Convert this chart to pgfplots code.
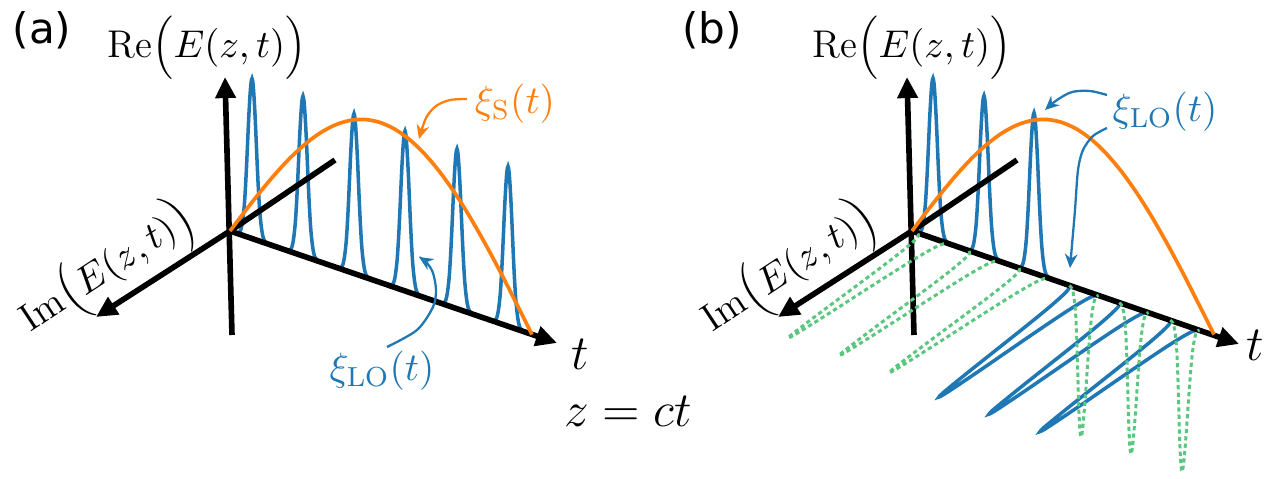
\RequirePackage{fix-cm}
\documentclass[border=0pt]{standalone}
\usepackage{fontspec}
\usepackage{pgfplots}
\pgfplotsset{compat=1.18}
\usepackage{pgfplotstable}
\usetikzlibrary{arrows.meta}
\newfontfamily\dejavu{DejaVu Sans}
\definecolor{mblue}{HTML}{1F77B4}
\definecolor{morange}{HTML}{FF7F0E}
\definecolor{mgreen}{RGB}{90,198,128}

% Gaussian pulse profile (offset along t in px, relative amplitude)
\pgfplotstableread{
dx g
-14.6 0.003
-12.3 0.015
-11.2 0.031
-10.1 0.061
-9.0 0.109
-7.8 0.183
-6.7 0.288
-5.6 0.421
-4.5 0.575
-3.4 0.732
-2.2 0.871
-1.1 0.966
0 1.000
1.1 0.966
2.2 0.871
3.4 0.732
4.5 0.575
5.6 0.421
6.7 0.288
7.8 0.183
9.0 0.109
10.1 0.061
11.2 0.031
12.3 0.015
14.6 0.003
}\pulseshape

% signal envelope: position along t (px) and height above the t axis (px)
\pgfplotstableread{
t h
0 0
15 24.9
30 49.1
45 72.2
60 93.5
75 112.5
90 128.8
105 142.0
120 151.7
135 157.8
150 160.0
165 158.3
180 152.8
195 143.5
210 130.8
225 114.9
240 96.2
255 75.1
270 52.3
285 28.1
300 3.3
302 0
}\signal

% #1 style, #2 origin x, #3 pulse centre along t, #4/#5 pulse direction (px)
\newcommand{\pulse}[5]{%
\addplot[#1] table[x expr={#2+#3+\thisrow{dx}+(#4)*\thisrow{g}},
  y expr={231+0.343*(#3+\thisrow{dx})+(#5)*\thisrow{g}}] {\pulseshape};}

\tikzset{
  bluep/.style={mblue, line width=1.0pt, smooth},
  greenp/.style={mgreen, line width=0.85pt, smooth, dash pattern=on 1.2pt off 0.9pt},
  ax/.style={black, line width=1.6pt},
  axa/.style={black, line width=1.6pt, -{Triangle[length=6pt,width=5.6pt]}},
}
\newcommand{\lab}[1]{\fontsize{11}{13}\selectfont $\mathrm{#1}\Big(E(z,t)\Big)$}

\begin{document}
\begin{tikzpicture}
\begin{axis}[width=127.2mm, height=47.9mm, scale only axis,
  xmin=0, xmax=1272, ymin=0, ymax=479, y dir=reverse,
  hide axis, clip=false]
\addplot[draw=none] coordinates {(0,0) (1272,479)};
\coordinate (BL) at (axis cs:0,479);
\coordinate (TR) at (axis cs:1272,0);

% ---------- panel (a) ----------
\pulse{bluep}{230}{22}{0}{-160}
\pulse{bluep}{230}{73}{0}{-160}
\pulse{bluep}{230}{124}{0}{-160}
\pulse{bluep}{230}{175}{0}{-160}
\pulse{bluep}{230}{227}{0}{-160}
\pulse{bluep}{230}{278}{0}{-160}

\addplot[axa] coordinates {(232,335) (225,77)};
\addplot[ax] coordinates {(230,231) (335,160)};
\addplot[axa] coordinates {(230,231) (96,317)};
\addplot[axa] coordinates {(230,231) (557,343)};

\addplot[morange, line width=1.05pt, smooth] table[x expr={230+\thisrow{t}},
  y expr={231+0.343*\thisrow{t}-\thisrow{h}}] {\signal};

\addplot[morange, line width=0.65pt, smooth, -{Stealth[length=4pt,width=3.6pt]}]
  coordinates {(467,99) (450,100) (436,106) (426,118) (419,139)};
\addplot[mblue, line width=0.65pt, smooth, -{Stealth[length=4pt,width=3.6pt]}]
  coordinates {(387,347) (417,330) (433,307) (436,290) (433,273) (427,263) (419,257)};

% ---------- panel (b) ----------
\pulse{bluep}{912}{21}{0}{-160}
\pulse{bluep}{912}{72}{0}{-160}
\pulse{bluep}{912}{122}{0}{-160}
\pulse{bluep}{912}{172}{-145}{107}
\pulse{bluep}{912}{222}{-145}{107}
\pulse{bluep}{912}{273}{-145}{107}

\addplot[axa] coordinates {(914,335) (907,77)};
\addplot[ax] coordinates {(912,231) (1017,160)};
\addplot[axa] coordinates {(912,231) (778,317)};
\addplot[axa] coordinates {(912,231) (1239,344)};

\pulse{greenp}{912}{21}{-145}{100}
\pulse{greenp}{912}{72}{-145}{100}
\pulse{greenp}{912}{122}{-145}{100}
\pulse{greenp}{912}{172}{-3}{147}
\pulse{greenp}{912}{222}{-3}{147}
\pulse{greenp}{912}{273}{-3}{147}

\addplot[morange, line width=1.05pt, smooth] table[x expr={912+\thisrow{t}},
  y expr={231+0.343*\thisrow{t}-\thisrow{h}}] {\signal};

\addplot[mblue, line width=0.65pt, smooth, -{Stealth[length=4pt,width=3.6pt]}]
  coordinates {(1107,95) (1090,91) (1072,92) (1057,100) (1045,110)};
\addplot[mblue, line width=0.65pt, smooth, -{Stealth[length=4pt,width=3.6pt]}]
  coordinates {(1107,128) (1093,136) (1083,150) (1078,170) (1075,210) (1072,245) (1070,268)};

% ---------- text ----------
\node[inner sep=0pt] at (axis cs:42,30) {\dejavu\fontsize{12}{14}\selectfont (a)};
\node[inner sep=0pt] at (axis cs:712,30) {\dejavu\fontsize{12}{14}\selectfont (b)};
\node[inner sep=0pt] at (axis cs:207,48) {\lab{Re}};
\node[inner sep=0pt] at (axis cs:912,48) {\lab{Re}};
\node[inner sep=0pt, rotate=33.5] at (axis cs:108,270) {\lab{Im}};
\node[inner sep=0pt, rotate=33.5] at (axis cs:790,270) {\lab{Im}};
\node[text=morange] at (axis cs:515,104) {\fontsize{11.2}{13}\selectfont $\xi_{\mathrm{S}}(t)$};
\node[text=mblue] at (axis cs:382,371) {\fontsize{11.2}{13}\selectfont $\xi_{\mathrm{LO}}(t)$};
\node[text=mblue] at (axis cs:1165,112) {\fontsize{11.2}{13}\selectfont $\xi_{\mathrm{LO}}(t)$};
\node at (axis cs:580,354) {\fontsize{14}{16}\selectfont $t$};
\node at (axis cs:1255,345) {\fontsize{14}{16}\selectfont $t$};
\node at (axis cs:628,411) {\fontsize{14}{16}\selectfont $z=ct$};
\end{axis}
\pgfresetboundingbox
\useasboundingbox (BL) rectangle (TR);
\end{tikzpicture}
\end{document}
